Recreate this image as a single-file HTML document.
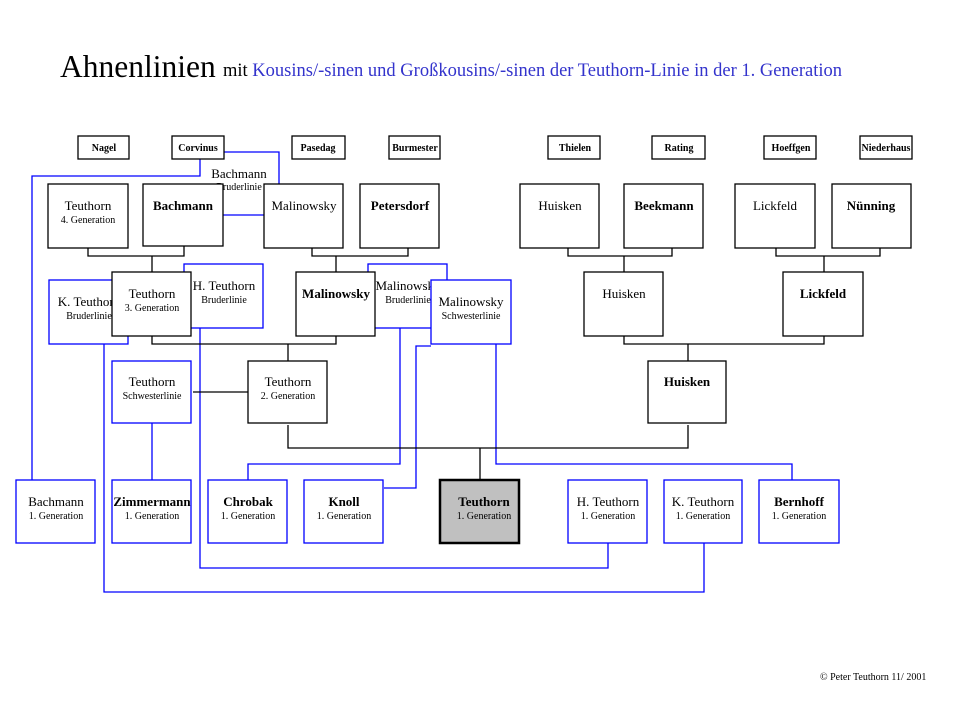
<!DOCTYPE html>
<html><head><meta charset="utf-8"><style>
html,body{margin:0;padding:0;background:#fff}
svg{display:block}
text{font-family:"Liberation Serif",serif}
.n{font-size:13px;text-anchor:middle}
.b{font-size:13px;font-weight:bold;text-anchor:middle}
.s{font-size:10px;text-anchor:middle}
.t{font-size:10px;font-weight:bold;text-anchor:middle}
</style></head><body>
<svg width="959" height="719" viewBox="0 0 959 719" xmlns="http://www.w3.org/2000/svg">
<text x="60" y="77" font-size="31.5">Ahnenlinien</text>
<text x="223" y="76" font-size="18.5">mit <tspan fill="#3333cc">Kousins/-sinen und Großkousins/-sinen der Teuthorn-Linie in der 1. Generation</tspan></text>

<g fill="none" stroke="#0000ff" stroke-width="1.3">
<polyline points="224,152 279,152 279,184"/>
<polyline points="223,215 264,215"/>
<polyline points="200,159 200,176 32,176 32,480"/>
<polyline points="104,344 104,592 704,592 704,543"/>
<polyline points="200,328 200,568 608,568 608,543"/>
<polyline points="400,328 400,464 248,464 248,480"/>
<polyline points="431,346 416,346 416,488 384,488"/>
<polyline points="496,344 496,464 792,464 792,480"/>
<polyline points="152,423 152,480"/>
</g>
<text x="239" y="178" class="n" font-size="12">Bachmann</text>
<text x="239" y="190" class="s">Bruderlinie</text>

<g fill="none" stroke="#000" stroke-width="1.3">
<polyline points="88,248 88,256 184,256 184,246"/>
<polyline points="152,256 152,272"/>
<polyline points="312,248 312,256 408,256 408,248"/>
<polyline points="336,256 336,272"/>
<polyline points="568,248 568,256 672,256 672,248"/>
<polyline points="624,256 624,272"/>
<polyline points="776,248 776,256 880,256 880,248"/>
<polyline points="824,256 824,272"/>
<polyline points="152,336 152,344 336,344 336,336"/>
<polyline points="288,344 288,361"/>
<polyline points="624,336 624,344 824,344 824,336"/>
<polyline points="688,344 688,361"/>
<polyline points="193,392 248,392"/>
<polyline points="288,425 288,448 688,448 688,425"/>
<polyline points="480,448 480,480"/>
</g>

<g fill="#fff" stroke="#000" stroke-width="1.3">
<rect x="78" y="136" width="51" height="23"/><rect x="172" y="136" width="52" height="23"/>
<rect x="292" y="136" width="53" height="23"/><rect x="389" y="136" width="51" height="23"/>
<rect x="548" y="136" width="52" height="23"/><rect x="652" y="136" width="53" height="23"/>
<rect x="764" y="136" width="52" height="23"/><rect x="860" y="136" width="52" height="23"/>
<rect x="48" y="184" width="80" height="64"/><rect x="143" y="184" width="80" height="62"/>
<rect x="264" y="184" width="79" height="64"/><rect x="360" y="184" width="79" height="64"/>
<rect x="520" y="184" width="79" height="64"/><rect x="624" y="184" width="79" height="64"/>
<rect x="735" y="184" width="80" height="64"/><rect x="832" y="184" width="79" height="64"/>
</g>
<text x="104" y="151" class="t">Nagel</text><text x="198" y="151" class="t">Corvinus</text>
<text x="318" y="151" class="t">Pasedag</text><text x="415" y="151" class="t">Burmester</text>
<text x="575" y="151" class="t">Thielen</text><text x="679" y="151" class="t">Rating</text>
<text x="791" y="151" class="t">Hoeffgen</text><text x="886" y="151" class="t">Niederhaus</text>

<text x="88" y="210" class="n">Teuthorn</text><text x="88" y="223" class="s">4. Generation</text>
<text x="183" y="210" class="b">Bachmann</text>
<text x="304" y="210" class="n">Malinowsky</text>
<text x="400" y="210" class="b">Petersdorf</text>
<text x="560" y="210" class="n">Huisken</text>
<text x="664" y="210" class="b">Beekmann</text>
<text x="775" y="210" class="n">Lickfeld</text>
<text x="871" y="210" class="b">Nünning</text>

<rect x="49" y="280" width="79" height="64" fill="#fff" stroke="#00f" stroke-width="1.3"/>
<text x="89" y="306" class="n">K. Teuthorn</text><text x="89" y="319" class="s">Bruderlinie</text>
<rect x="184" y="264" width="79" height="64" fill="#fff" stroke="#00f" stroke-width="1.3"/>
<text x="224" y="290" class="n">H. Teuthorn</text><text x="224" y="303" class="s">Bruderlinie</text>
<rect x="112" y="272" width="79" height="64" fill="#fff" stroke="#000" stroke-width="1.3"/>
<text x="152" y="298" class="n">Teuthorn</text><text x="152" y="311" class="s">3. Generation</text>
<rect x="368" y="264" width="79" height="64" fill="#fff" stroke="#00f" stroke-width="1.3"/>
<text x="408" y="290" class="n">Malinowsky</text><text x="408" y="303" class="s">Bruderlinie</text>
<rect x="296" y="272" width="79" height="64" fill="#fff" stroke="#000" stroke-width="1.3"/>
<text x="336" y="298" class="b">Malinowsky</text>
<rect x="431" y="280" width="80" height="64" fill="#fff" stroke="#00f" stroke-width="1.3"/>
<text x="471" y="306" class="n">Malinowsky</text><text x="471" y="319" class="s">Schwesterlinie</text>
<rect x="584" y="272" width="79" height="64" fill="#fff" stroke="#000" stroke-width="1.3"/>
<text x="624" y="298" class="n">Huisken</text>
<rect x="783" y="272" width="80" height="64" fill="#fff" stroke="#000" stroke-width="1.3"/>
<text x="823" y="298" class="b">Lickfeld</text>

<rect x="112" y="361" width="79" height="62" fill="#fff" stroke="#00f" stroke-width="1.3"/>
<text x="152" y="386" class="n">Teuthorn</text><text x="152" y="399" class="s">Schwesterlinie</text>
<rect x="248" y="361" width="79" height="62" fill="#fff" stroke="#000" stroke-width="1.3"/>
<text x="288" y="386" class="n">Teuthorn</text><text x="288" y="399" class="s">2. Generation</text>
<rect x="648" y="361" width="78" height="62" fill="#fff" stroke="#000" stroke-width="1.3"/>
<text x="687" y="386" class="b">Huisken</text>

<g fill="#fff" stroke="#00f" stroke-width="1.3">
<rect x="16" y="480" width="79" height="63"/><rect x="112" y="480" width="79" height="63"/>
<rect x="208" y="480" width="79" height="63"/><rect x="304" y="480" width="79" height="63"/>
<rect x="568" y="480" width="79" height="63"/><rect x="664" y="480" width="78" height="63"/>
<rect x="759" y="480" width="80" height="63"/>
</g>
<rect x="440" y="480" width="79" height="63" fill="#c0c0c0" stroke="#000" stroke-width="2.5"/>
<text x="56" y="506" class="n">Bachmann</text><text x="56" y="519" class="s">1. Generation</text>
<text x="152" y="506" class="b">Zimmermann</text><text x="152" y="519" class="s">1. Generation</text>
<text x="248" y="506" class="b">Chrobak</text><text x="248" y="519" class="s">1. Generation</text>
<text x="344" y="506" class="b">Knoll</text><text x="344" y="519" class="s">1. Generation</text>
<text x="484" y="506" class="b">Teuthorn</text><text x="484" y="519" class="s">1. Generation</text>
<text x="608" y="506" class="n">H. Teuthorn</text><text x="608" y="519" class="s">1. Generation</text>
<text x="703" y="506" class="n">K. Teuthorn</text><text x="703" y="519" class="s">1. Generation</text>
<text x="799" y="506" class="b">Bernhoff</text><text x="799" y="519" class="s">1. Generation</text>

<text x="820" y="680" font-size="10">© Peter Teuthorn 11/ 2001</text>
</svg>
</body></html>
